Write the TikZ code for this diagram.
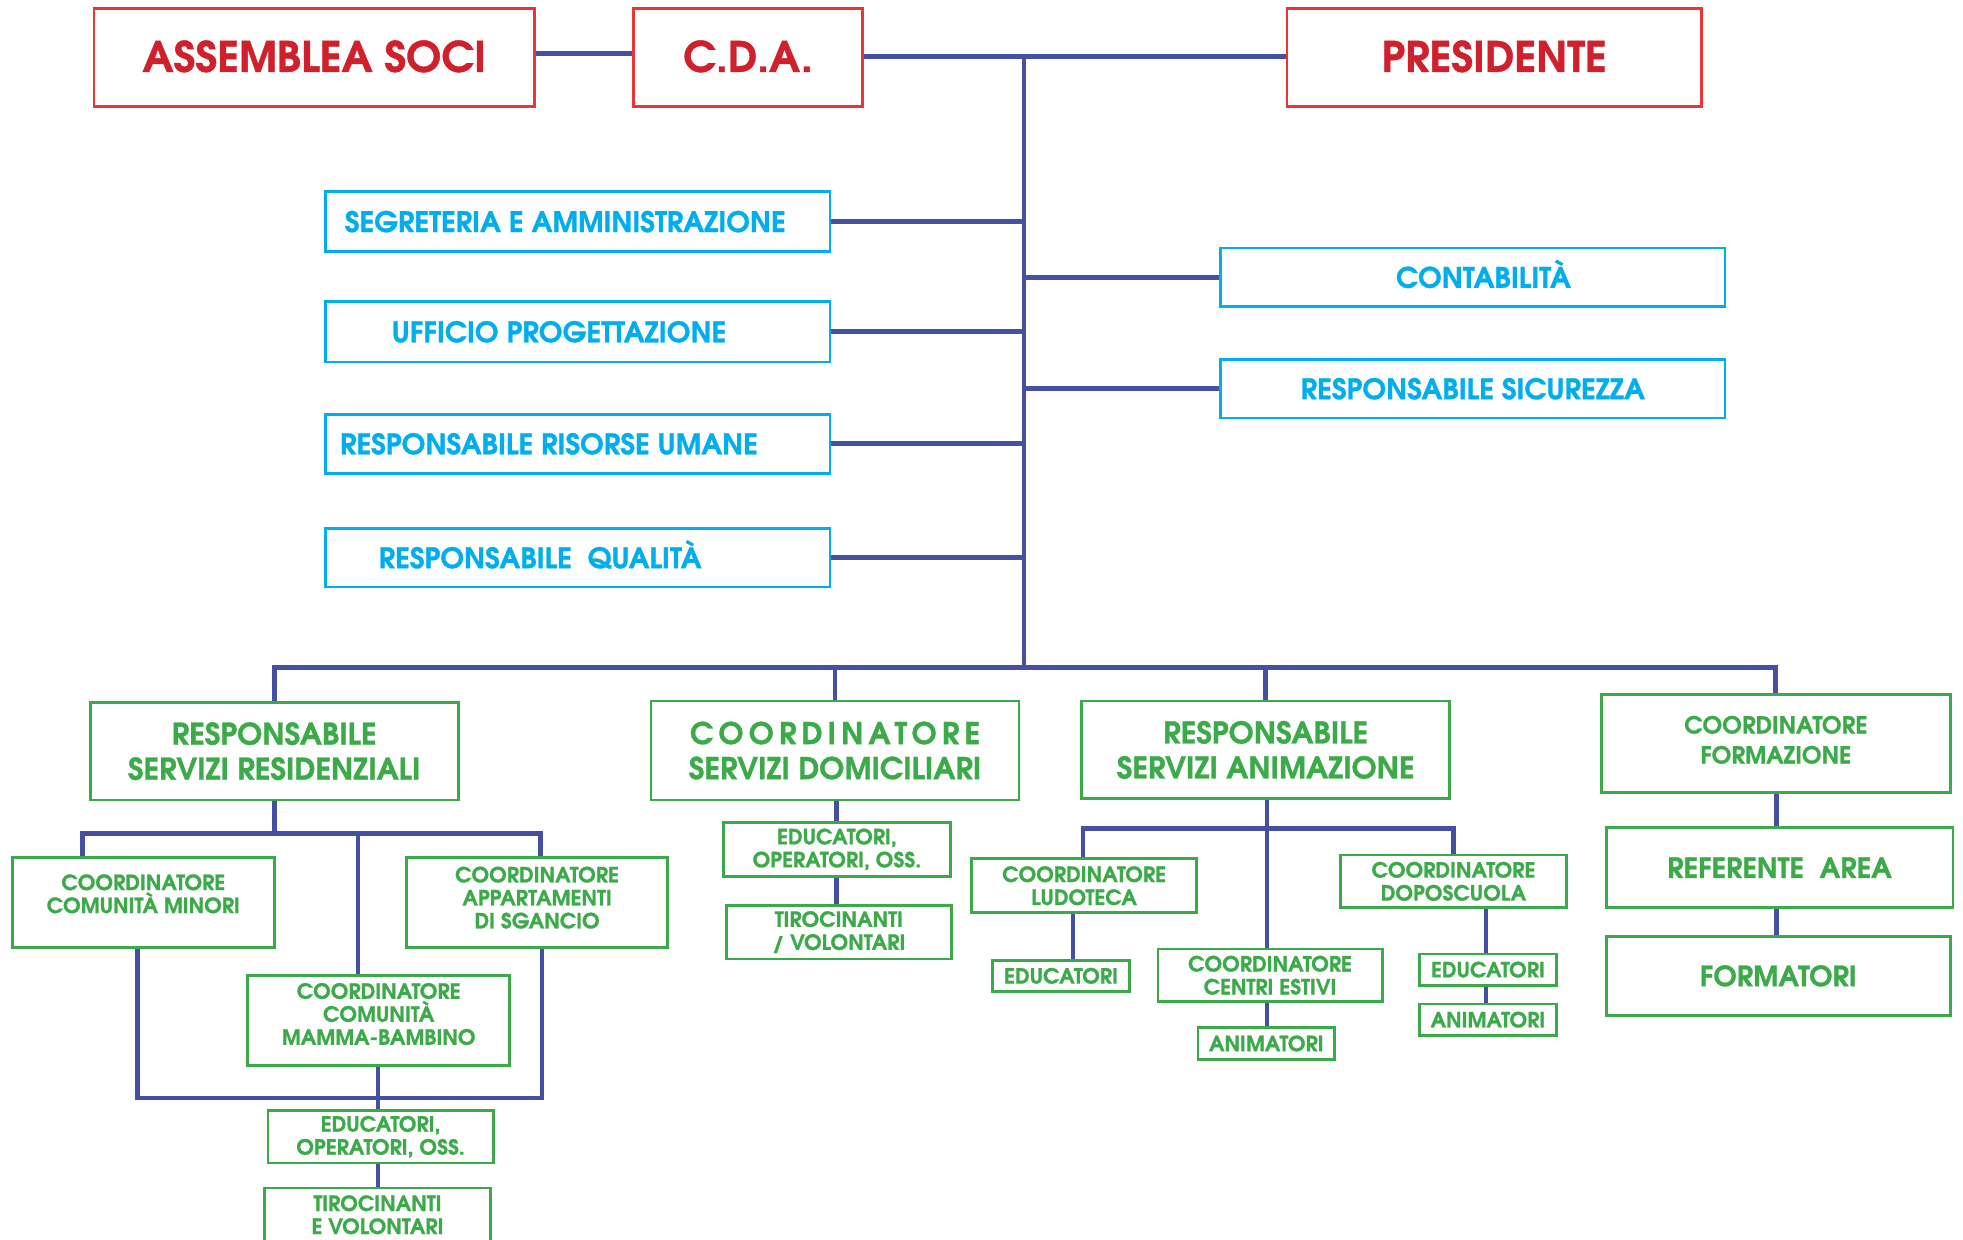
\documentclass[tikz,border=0pt]{standalone}
\usepackage{fontspec}
\setmainfont{TeX Gyre Adventor}[BoldFeatures={FakeBold=1}]
\usetikzlibrary{fit}
\definecolor{cred}{RGB}{208,32,44}
\definecolor{cborder}{RGB}{236,52,52}
\definecolor{cblue}{RGB}{0,174,239}
\definecolor{cgreen}{RGB}{59,170,72}
\definecolor{cline}{RGB}{70,80,162}
\begin{document}
\begin{tikzpicture}[x=1.252pt,y=-1.252pt,
  conn/.style={draw=cline, line width=4.8pt},
  redbox/.style={draw=cborder, line width=2.6pt, inner sep=0pt},
  bbox/.style={draw=cblue, line width=2.6pt, inner sep=0pt},
  gbox/.style={draw=cgreen, line width=2.8pt, inner sep=0pt},
  rtxt/.style={text=cred, inner sep=0pt, font=\fontsize{42}{50}\selectfont\bfseries,
    text height=31pt, text depth=0pt},
  btxt/.style={text=cblue, inner sep=0pt, font=\fontsize{28.3}{32}\selectfont\bfseries,
    text height=21pt, text depth=0pt},
  gbig/.style={text=cgreen, inner sep=0pt, align=center, font=\fontsize{30}{35}\selectfont\bfseries},
  gform/.style={text=cgreen, inner sep=0pt, align=center, font=\fontsize{23.5}{30}\selectfont\bfseries},
  gsm/.style={text=cgreen, inner sep=0pt, align=center, font=\fontsize{21}{23}\selectfont\bfseries},
  gsmone/.style={text=cgreen, inner sep=0pt, font=\fontsize{21}{23}\selectfont\bfseries,
    text height=15.5pt, text depth=0pt},
  gref/.style={text=cgreen, inner sep=0pt, font=\fontsize{28}{32}\selectfont\bfseries,
    text height=20.7pt, text depth=0pt},
]
\clip (0,0) rectangle (1568,990);
\fill[white] (0,0) rectangle (1568,990);

% top row
\node[redbox, fit={(75,7) (427,85)}, label={[rtxt,yshift=1.2pt]center:ASSEMBLEA SOCI}] (ass) {};
\node[redbox, fit={(506,7) (689,85)}, label={[rtxt,yshift=1.2pt]center:C.D.A.}] (cda) {};
\node[redbox, fit={(1028,7) (1359,85)}, label={[rtxt,yshift=1.2pt]center:PRESIDENTE}] (pres) {};

\coordinate (ya) at (0,43);
\coordinate (yb) at (0,45);
\coordinate (tt) at (818,45);
\coordinate (tb) at (818,533);
\draw[conn] (ass.east |- ya) -- (cda.west |- ya);
\draw[conn] (cda.east |- yb) -- (pres.west |- yb);
\draw[conn] (tt) -- (tb);

% staff offices
\node[bbox, fit={(260,153) (663,201)}, label={[btxt,xshift=-12.5pt]center:SEGRETERIA E AMMINISTRAZIONE}] (seg) {};
\node[bbox, fit={(260,241) (663,289)}, label={[btxt,xshift=-18.8pt]center:UFFICIO PROGETTAZIONE}] (uff) {};
\node[bbox, fit={(260,331) (663,378)}, label={[btxt,xshift=-28.8pt]center:RESPONSABILE RISORSE UMANE}] (ris) {};
\node[bbox, fit={(260,422) (663,469)}, label={[btxt,xshift=-37.6pt]center:RESPONSABILE~ QUALITÀ}] (qua) {};
\node[bbox, fit={(975,198) (1378,245)}, label={[btxt,xshift=10.6pt]center:CONTABILITÀ}] (con) {};
\node[bbox, fit={(975,287) (1378,334)}, label={[btxt]center:RESPONSABILE SICUREZZA}] (sic) {};
\foreach \n in {seg,uff,ris,qua} \draw[conn] (\n.east) -- (\n.east -| tt);
\foreach \n in {con,sic} \draw[conn] (\n.west) -- (\n.west -| tt);

% level 1
\node[gbox, fit={(72,561) (366,639)}, label={[gbig]center:{RESPONSABILE\\SERVIZI RESIDENZIALI}}] (res) {};
\node[gbox, fit={(520,560) (814,639)}, label={[gbig]center:{{\addfontfeature{LetterSpace=17}COORDINATORE}\\SERVIZI DOMICILIARI}}] (dom) {};
\node[gbox, fit={(864,560) (1158,638)}, label={[gbig]center:{RESPONSABILE\\SERVIZI ANIMAZIONE}}] (ani) {};
\node[gbox, fit={(1279,555) (1558,633)}, label={[gform,yshift=3.8pt]center:{COORDINATORE\\FORMAZIONE}}] (form) {};

\draw[conn] (res.north) -- (res.north |- tb) -- (form.north |- tb) -- (form.north);
\draw[conn] (dom.north |- tb) -- (dom.north);
\draw[conn] (ani.north |- tb) -- (ani.north);

% residential
\node[gbox, fit={(10,685) (219,757)}, label={[gsm,yshift=8.8pt]center:{COORDINATORE\\COMUNITÀ MINORI}}] (min) {};
\node[gbox, fit={(325,685) (533,757)}, label={[gsm,yshift=5pt]center:{COORDINATORE\\APPARTAMENTI\\DI SGANCIO}}] (app) {};
\node[gbox, fit={(198,779) (407,851)}, label={[gsm,yshift=6.3pt]center:{COORDINATORE\\COMUNITÀ\\MAMMA-BAMBINO}}] (mam) {};
\node[gbox, fit={(214,887) (394,929)}, label={[gsm]center:{EDUCATORI,\\OPERATORI, OSS.}}] (edua) {};
\node[gbox, fit={(211,949) (392,994)}, label={[gsm,yshift=1.5pt]center:{TIROCINANTI\\E VOLONTARI}}] (tira) {};

\coordinate (r0) at (219,666);
\coordinate (r1) at (66,666);
\coordinate (r2) at (286,666);
\coordinate (r3) at (432,666);
\coordinate (r4) at (110,877);
\coordinate (r5) at (433,877);
\coordinate (r6) at (302,877);
\draw[conn] (res.south) -- (r0);
\draw[conn] (r1 |- min.north) -- (r1) -- (r3) -- (r3 |- app.north);
\draw[conn] (r2) -- (r2 |- mam.north);
\draw[conn] (r4 |- min.south) -- (r4) -- (r5) -- (r5 |- app.south);
\draw[conn] (r6 |- mam.south) -- (r6 |- edua.north);
\draw[conn] (r6 |- edua.south) -- (r6 |- tira.north);

% domiciliary
\node[gbox, fit={(578,657) (759,700)}, label={[gsm]center:{EDUCATORI,\\OPERATORI, OSS.}}] (edub) {};
\node[gbox, fit={(580,723) (760,766)}, label={[gsm]center:{TIROCINANTI\\/ VOLONTARI}}] (tirb) {};
\coordinate (d0) at (668,0);
\draw[conn] (d0 |- dom.south) -- (d0 |- edub.north);
\draw[conn] (d0 |- edub.south) -- (d0 |- tirb.north);

% animation
\node[gbox, fit={(776,686) (956,729)}, label={[gsm]center:{COORDINATORE\\LUDOTECA}}] (lud) {};
\node[gbox, fit={(793,767) (902,792)}, label={[gsmone]center:EDUCATORI}] (educ) {};
\node[gbox, fit={(925,758) (1104,800)}, label={[gsm]center:{COORDINATORE\\CENTRI ESTIVI}}] (est) {};
\node[gbox, fit={(957,821) (1066,846)}, label={[gsmone]center:ANIMATORI}] (anma) {};
\node[gbox, fit={(1071,683) (1251,725)}, label={[gsm]center:{COORDINATORE\\DOPOSCUOLA}}] (dop) {};
\node[gbox, fit={(1134,762) (1243,787)}, label={[gsmone]center:EDUCATORI}] (edud) {};
\node[gbox, fit={(1134,802) (1243,827)}, label={[gsmone]center:ANIMATORI}] (anmb) {};

\coordinate (a1) at (865,662);
\coordinate (a2) at (1012,662);
\coordinate (a3) at (1161,662);
\coordinate (a4) at (857,0);
\coordinate (a5) at (1187,0);
\draw[conn] (a2 |- ani.south) -- (a2 |- est.north);
\draw[conn] (a1 |- lud.north) -- (a1) -- (a3) -- (a3 |- dop.north);
\draw[conn] (a4 |- lud.south) -- (a4 |- educ.north);
\draw[conn] (a2 |- est.south) -- (a2 |- anma.north);
\draw[conn] (a5 |- dop.south) -- (a5 |- edud.north);
\draw[conn] (a5 |- edud.south) -- (a5 |- anmb.north);

% formation
\node[gbox, fit={(1283,661) (1560,725)}, label={[gref]center:REFERENTE~ AREA}] (ref) {};
\node[gbox, fit={(1283,748) (1558,811)}, label={[gref]center:FORMATORI}] (fmt) {};
\coordinate (f0) at (1419,0);
\draw[conn] (f0 |- form.south) -- (f0 |- ref.north);
\draw[conn] (f0 |- ref.south) -- (f0 |- fmt.north);
\end{tikzpicture}
\end{document}
